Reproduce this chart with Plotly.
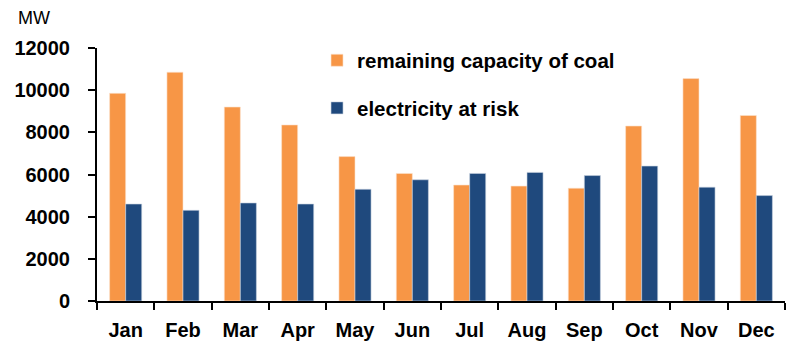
import plotly.graph_objects as go

months = ["Jan", "Feb", "Mar", "Apr", "May", "Jun", "Jul", "Aug", "Sep", "Oct", "Nov", "Dec"]
coal_capacity = [9850, 10850, 9200, 8350, 6850, 6050, 5500, 5450, 5350, 8300, 10550, 8800]
electricity_at_risk = [4600, 4300, 4650, 4600, 5300, 5750, 6050, 6100, 5950, 6400, 5400, 5000]
y_ticks = [0, 2000, 4000, 6000, 8000, 10000, 12000]
y_tick_labels = [str(v) for v in y_ticks]

FONT = "Liberation Sans, Arial, sans-serif"

fig = go.Figure()
fig.add_trace(go.Bar(
    x=months, y=coal_capacity, name="remaining capacity of coal",
    marker=dict(color="#F79646", line=dict(color="#FBE3CF", width=0.6)),
    legendgroup="a",
))
fig.add_trace(go.Bar(
    x=months, y=electricity_at_risk, name="electricity at risk",
    marker=dict(color="#1F497D", line=dict(color="#C9D3E0", width=0.6)),
    legendgroup="b",
))

fig.update_layout(
    width=787, height=338,
    margin=dict(l=89, r=10, t=40, b=45, autoexpand=False),
    paper_bgcolor="white", plot_bgcolor="white",
    barmode="group", bargap=0.44, bargroupgap=0,
    font=dict(family=FONT, color="black"),
    showlegend=True,
    legend=dict(
        x=0.3198, y=1.03, xanchor="left", yanchor="top",
        font=dict(size=20.5, family=FONT, color="black", weight="bold"),
        bgcolor="rgba(0,0,0,0)",
        traceorder="grouped", tracegroupgap=18,
        itemwidth=30,
    ),
    xaxis=dict(
        showline=True, linecolor="black", linewidth=2,
        ticks="outside", ticklen=7, tickwidth=2, tickcolor="black",
        tickson="boundaries",
        tickfont=dict(size=20, family=FONT, color="black", weight="bold"),
        ticklabelstandoff=10,
        showgrid=False, zeroline=False, automargin=False,
    ),
    yaxis=dict(
        range=[0, 12000], tickvals=y_ticks, ticktext=y_tick_labels,
        showline=True, linecolor="black", linewidth=2,
        ticks="outside", ticklen=7, tickwidth=2, tickcolor="black",
        tickfont=dict(size=20, family=FONT, color="black", weight="bold"),
        ticklabelstandoff=14,
        showgrid=False, zeroline=False, automargin=False,
    ),
    annotations=[dict(
        text="MW", xref="paper", yref="paper", x=-0.0916, y=1.1186,
        xanchor="center", yanchor="middle", showarrow=False,
        font=dict(size=18, family=FONT, color="black"),
    )],
)

fig.write_html("out.html")
